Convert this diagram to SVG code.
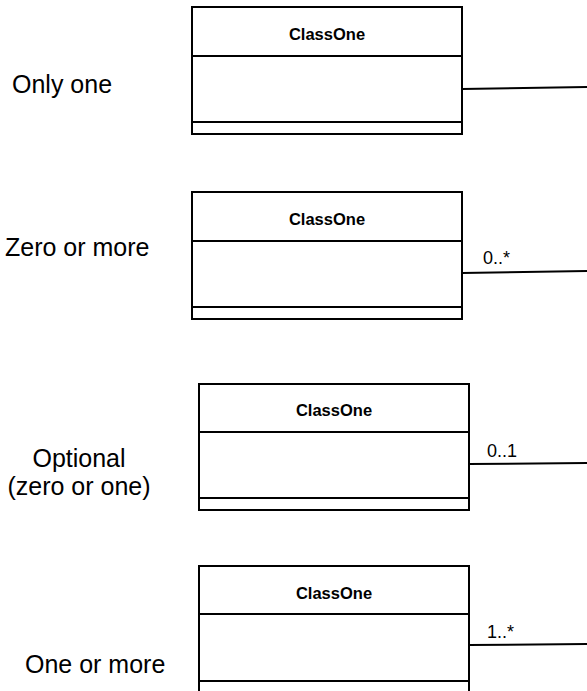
<svg xmlns="http://www.w3.org/2000/svg" width="587" height="691" viewBox="0 0 587 691">
<style>
.box{fill:#fff;stroke:#000;stroke-width:2}
.div{stroke:#000;stroke-width:2;fill:none}
.conn{stroke:#000;stroke-width:2;fill:none}
.title{font-family:"Liberation Sans",Arial,sans-serif;font-weight:bold;font-size:16.5px;text-anchor:middle;fill:#000}
.lab{font-family:"Liberation Sans",Arial,sans-serif;font-size:25px;fill:#000}
.mult{font-family:"Liberation Sans",Arial,sans-serif;font-size:18px;fill:#000}
</style>
<rect width="587" height="691" fill="#fff"/>
<g id="labels">
<text class="lab" x="12" y="93">Only one</text>
<text class="lab" x="5" y="256">Zero or more</text>
<text class="lab" x="79" y="467" text-anchor="middle">Optional</text>
<text class="lab" x="79" y="495" text-anchor="middle">(zero or one)</text>
<text class="lab" x="25" y="673">One or more</text>
</g>
<g id="class1">
<rect class="box" x="192" y="7" width="270" height="127"/>
<line class="div" x1="192" y1="56" x2="462" y2="56"/>
<line class="div" x1="192" y1="122" x2="462" y2="122"/>
<text class="title" x="327" y="40">ClassOne</text>
</g>
<g id="class2">
<rect class="box" x="192" y="192" width="270" height="127"/>
<line class="div" x1="192" y1="241" x2="462" y2="241"/>
<line class="div" x1="192" y1="307" x2="462" y2="307"/>
<text class="title" x="327" y="225">ClassOne</text>
</g>
<g id="class3">
<rect class="box" x="199" y="384" width="270" height="126"/>
<line class="div" x1="199" y1="432" x2="469" y2="432"/>
<line class="div" x1="199" y1="498" x2="469" y2="498"/>
<text class="title" x="334" y="416">ClassOne</text>
</g>
<g id="class4">
<rect class="box" x="199" y="566" width="270" height="140"/>
<line class="div" x1="199" y1="614" x2="469" y2="614"/>
<line class="div" x1="199" y1="681" x2="469" y2="681"/>
<text class="title" x="334" y="599">ClassOne</text>
</g>
<g id="connectors">
<line class="conn" x1="462" y1="89" x2="587" y2="87"/>
<line class="conn" x1="462" y1="273" x2="587" y2="271"/>
<line class="conn" x1="469" y1="464" x2="587" y2="463"/>
<line class="conn" x1="469" y1="645" x2="587" y2="644"/>
<text class="mult" x="483" y="264">0..*</text>
<text class="mult" x="487" y="457">0..1</text>
<text class="mult" x="487" y="638">1..*</text>
</g>
</svg>
